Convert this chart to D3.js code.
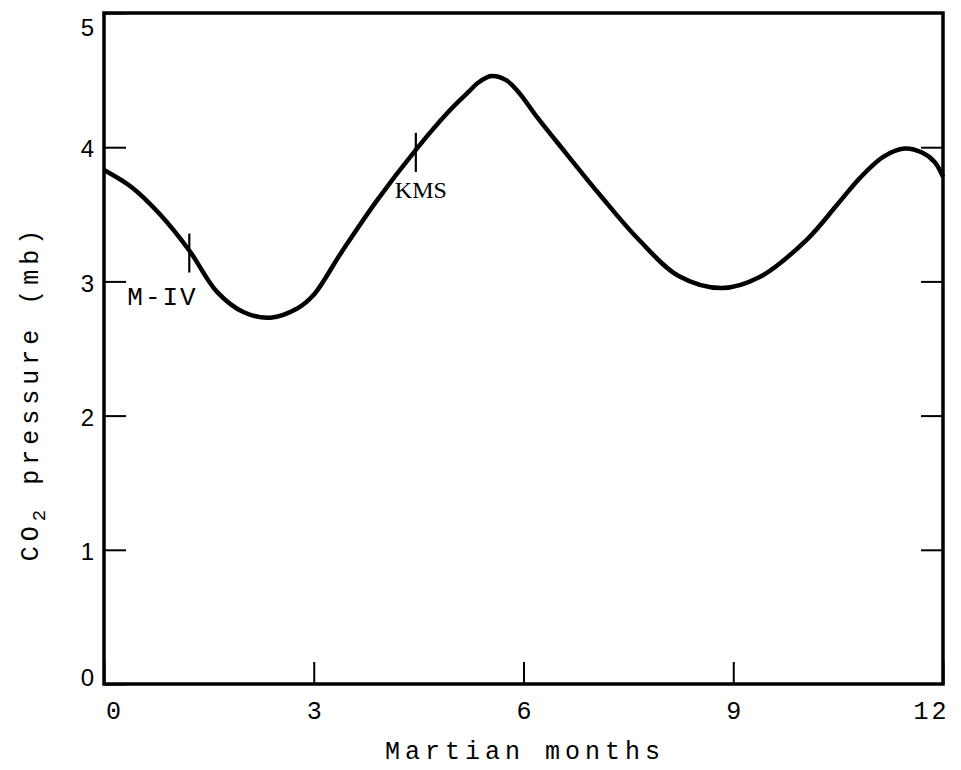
<!DOCTYPE html>
<html>
<head>
<meta charset="utf-8">
<script src="https://cdn.jsdelivr.net/npm/d3@7"></script>
<style>
  html, body { margin: 0; padding: 0; background: #fff; }
  svg { display: block; }
</style>
</head>
<body>
<svg id="chart" width="961" height="770"></svg>
<script>
// ---- data ----
const months = [0, 0.4, 0.8, 1.22, 1.62, 2.0, 2.38, 2.77, 3.0, 3.4, 3.9, 4.46, 4.92, 5.21, 5.35, 5.54, 5.75, 5.93, 6.2, 6.6, 7.1, 7.65, 8.22, 8.84, 9.37, 10.05, 10.5, 10.81, 11.15, 11.45, 11.7, 11.88, 12];
const pressure = [3.83, 3.70, 3.50, 3.23, 2.92, 2.77, 2.73, 2.80, 2.90, 3.22, 3.60, 3.98, 4.26, 4.41, 4.48, 4.53, 4.50, 4.41, 4.22, 3.96, 3.64, 3.31, 3.04, 2.95, 3.03, 3.31, 3.58, 3.77, 3.93, 3.99, 3.96, 3.89, 3.78];
const xTicks = [0, 3, 6, 9, 12];
const yTicks = [0, 1, 2, 3, 4, 5];
const markerNames = ["M-IV", "KMS"];
const markerMonths = [1.22, 4.46];
const markerValues = [3.23, 3.98];

const svg = d3.select("#chart");
const x = d3.scaleLinear().domain([0, 12]).range([104, 943]);
const y = d3.scaleLinear().domain([0, 5]).range([684, 13]);

const pts = months.map((m, i) => [m, pressure[i]]);

// axes
const bottom = svg.append("g").attr("transform", `translate(0,${y(0)})`)
  .call(d3.axisBottom(x).tickValues(xTicks).tickSizeInner(-22).tickSizeOuter(0).tickPadding(17).tickFormat(d3.format("d")));
const left = svg.append("g").attr("transform", `translate(${x(0)},0)`)
  .call(d3.axisLeft(y).tickValues(yTicks).tickSizeInner(-22).tickSizeOuter(0).tickPadding(10).tickFormat(d3.format("d")));
const right = svg.append("g").attr("transform", `translate(${x(12)},0)`)
  .call(d3.axisRight(y).tickValues([1, 2, 3, 4]).tickSizeInner(-22).tickSizeOuter(0).tickFormat(""));

[bottom, left, right].forEach(g => {
  g.select(".domain").remove();
  g.selectAll(".tick line").attr("stroke", "#000").attr("stroke-width", 2);
});
bottom.selectAll(".tick text")
  .attr("fill", "#000")
  .style("font-family", "'Liberation Mono', 'DejaVu Sans Mono', monospace")
  .style("font-size", "25px")
  .attr("dx", d => d === 0 ? 9 : (d === 12 ? -12 : 0))
  .attr("letter-spacing", d => d === 12 ? "3px" : null);
left.selectAll(".tick text")
  .attr("fill", "#000")
  .style("font-family", "'Liberation Sans', Arial, sans-serif")
  .style("font-size", "24px")
  .attr("dy", d => d === 5 ? "0.95em" : (d === 0 ? "0.05em" : "0.4em"));

// frame
svg.append("rect")
  .attr("x", x(0)).attr("y", y(5))
  .attr("width", x(12) - x(0)).attr("height", y(0) - y(5))
  .attr("fill", "none").attr("stroke", "#000").attr("stroke-width", 3.5);

// curve
const line = d3.line().x(d => x(d[0])).y(d => y(d[1])).curve(d3.curveCatmullRom.alpha(0.5));
svg.append("path").datum(pts)
  .attr("d", line)
  .attr("fill", "none").attr("stroke", "#000").attr("stroke-width", 4.5)
  .attr("stroke-linejoin", "round");

// markers
svg.selectAll(".marker").data(markerMonths).enter().append("line")
  .attr("class", "marker")
  .attr("x1", d => x(d)).attr("x2", d => x(d))
  .attr("y1", (d, i) => y(markerValues[i]) - 17)
  .attr("y2", (d, i) => y(markerValues[i]) + 22)
  .attr("stroke", "#000").attr("stroke-width", 2.2);

svg.append("text")
  .attr("x", x(markerMonths[0]) - 62).attr("y", y(markerValues[0]) + 54)
  .style("font-family", "'Liberation Mono', 'DejaVu Sans Mono', monospace")
  .style("font-size", "26px").attr("letter-spacing", "2px")
  .text(markerNames[0]);
svg.append("text")
  .attr("x", x(markerMonths[1]) - 21).attr("y", y(markerValues[1]) + 48)
  .style("font-family", "'Liberation Serif', 'Times New Roman', serif")
  .style("font-size", "24px")
  .text(markerNames[1]);

// axis titles
svg.append("text")
  .attr("x", 525).attr("y", 759)
  .attr("text-anchor", "middle")
  .style("font-family", "'Liberation Mono', 'DejaVu Sans Mono', monospace")
  .style("font-size", "25px").attr("letter-spacing", "5px")
  .text("Martian months");

const yt = svg.append("text")
  .attr("transform", "translate(38,393) rotate(-90)")
  .attr("text-anchor", "middle")
  .style("font-family", "'Liberation Mono', 'DejaVu Sans Mono', monospace")
  .style("font-size", "25px").attr("letter-spacing", "5px");
yt.append("tspan").text("CO");
yt.append("tspan").attr("dy", "0.35em").style("font-size", "19px").text("2");
yt.append("tspan").attr("dy", "-0.27em").text(" pressure (mb)");
</script>
</body>
</html>
